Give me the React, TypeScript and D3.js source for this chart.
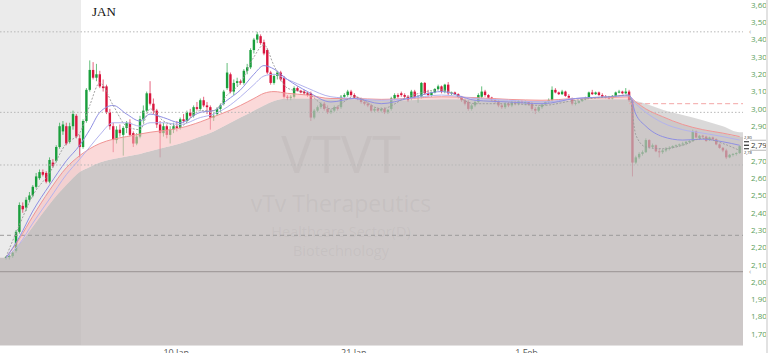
import React from "react";
import * as d3 from "d3";

// ---------- candle data ----------
const opens = [
  2.14, 2.145, 2.15, 2.18, 2.29, 2.44, 2.43, 2.475, 2.5, 2.55,
  2.6, 2.635, 2.63, 2.58, 2.69, 2.7, 2.78, 2.87, 2.9, 2.81,
  2.9, 2.96, 2.83, 2.78, 2.93, 3.11, 3.225, 3.18, 3.2, 3.13,
  3.13, 2.98, 2.9, 2.82, 2.88, 2.85, 2.89, 2.92, 2.86, 2.8,
  2.84, 2.94, 2.99, 3.09, 3.03, 2.99, 2.91, 2.86, 2.9, 2.85,
  2.88, 2.9, 2.89, 2.94, 2.93, 2.98, 2.96, 3.01, 3.0, 3.05,
  3.02, 3.01, 2.95, 2.97, 3.0, 3.03, 3.12, 3.2, 3.1, 3.15,
  3.16, 3.15, 3.22, 3.24, 3.34, 3.4, 3.42, 3.385, 3.34, 3.21,
  3.15, 3.19, 3.21, 3.18, 3.07, 3.065, 3.07, 3.12, 3.105, 3.1,
  3.09, 3.09, 2.95, 2.99, 3.01, 3.03, 3.0, 2.98, 2.99, 3.01,
  3.01, 3.07, 3.08, 3.1, 3.08, 3.065, 3.06, 3.04, 3.03, 3.02,
  2.99, 3.0, 2.99, 3.0, 2.98, 3.0, 3.06, 3.08, 3.09, 3.08,
  3.07, 3.06, 3.1, 3.065, 3.07, 3.15, 3.09, 3.08, 3.095, 3.115,
  3.13, 3.1, 3.14, 3.09, 3.095, 3.085, 3.07, 3.05, 3.04, 3.0,
  3.02, 3.04, 3.07, 3.1, 3.08, 3.065, 3.05, 3.04, 3.02, 3.01,
  3.03, 3.02, 3.04, 3.03, 3.045, 3.035, 3.04, 3.03, 3.0, 2.99,
  3.01, 3.025, 3.04, 3.05, 3.11, 3.095, 3.085, 3.1, 3.075, 3.06,
  3.03, 3.035, 3.045, 3.055, 3.065, 3.095, 3.085, 3.095, 3.08, 3.07,
  3.065, 3.06, 3.075, 3.095, 3.1, 3.09, 3.1, 3.05, 2.69, 2.72,
  2.74, 2.75, 2.82, 2.78, 2.79, 2.755, 2.75, 2.76, 2.77, 2.775,
  2.785, 2.79, 2.795, 2.8, 2.81, 2.815, 2.87, 2.83, 2.845, 2.84,
  2.82, 2.835, 2.825, 2.795, 2.775, 2.76, 2.72, 2.735, 2.74, 2.745,
];
const highs = [
  2.15, 2.16, 2.18, 2.3, 2.46, 2.46, 2.49, 2.52, 2.56, 2.63,
  2.65, 2.65, 2.64, 2.72, 2.71, 2.79, 2.92, 2.93, 2.92, 2.92,
  2.99, 2.97, 2.85, 2.94, 3.12, 3.28, 3.27, 3.26, 3.22, 3.17,
  3.14, 3.0, 2.92, 2.9, 2.91, 2.9, 2.93, 2.94, 2.87, 2.86,
  2.96, 3.02, 3.1, 3.16, 3.06, 3.0, 2.93, 2.92, 2.91, 2.9,
  2.92, 2.93, 2.95, 2.97, 2.99, 3.0, 3.02, 3.04, 3.06, 3.07,
  3.04, 3.02, 2.98, 3.01, 3.03, 3.11, 3.265, 3.21, 3.17, 3.18,
  3.17, 3.23, 3.26, 3.35, 3.41, 3.445, 3.43, 3.4, 3.35, 3.22,
  3.2, 3.22, 3.22, 3.19, 3.08, 3.08, 3.13, 3.13, 3.11, 3.11,
  3.1, 3.1, 3.0, 3.02, 3.04, 3.04, 3.02, 3.0, 3.02, 3.02,
  3.08, 3.09, 3.11, 3.11, 3.09, 3.07, 3.065, 3.05, 3.04, 3.03,
  3.01, 3.01, 3.01, 3.01, 3.0, 3.07, 3.09, 3.09, 3.1, 3.09,
  3.08, 3.11, 3.11, 3.08, 3.155, 3.155, 3.11, 3.1, 3.12, 3.14,
  3.135, 3.145, 3.155, 3.1, 3.1, 3.09, 3.075, 3.06, 3.05, 3.03,
  3.05, 3.09, 3.13, 3.11, 3.085, 3.07, 3.06, 3.05, 3.03, 3.04,
  3.04, 3.05, 3.05, 3.05, 3.05, 3.05, 3.045, 3.04, 3.01, 3.02,
  3.03, 3.045, 3.06, 3.13, 3.12, 3.1, 3.11, 3.105, 3.085, 3.065,
  3.05, 3.05, 3.06, 3.07, 3.1, 3.11, 3.1, 3.1, 3.09, 3.08,
  3.075, 3.08, 3.1, 3.11, 3.105, 3.12, 3.11, 3.06, 2.73, 2.75,
  2.76, 2.83, 2.825, 2.8, 2.795, 2.77, 2.77, 2.78, 2.785, 2.79,
  2.795, 2.8, 2.81, 2.815, 2.82, 2.88, 2.875, 2.85, 2.85, 2.845,
  2.84, 2.84, 2.83, 2.8, 2.78, 2.77, 2.74, 2.745, 2.75, 2.79,
];
const lows = [
  2.13, 2.13, 2.14, 2.17, 2.28, 2.4, 2.41, 2.46, 2.49, 2.54,
  2.59, 2.61, 2.57, 2.57, 2.66, 2.69, 2.77, 2.85, 2.79, 2.8,
  2.88, 2.83, 2.72, 2.77, 2.92, 3.1, 3.17, 3.16, 3.12, 3.1,
  2.97, 2.88, 2.75, 2.8, 2.84, 2.73, 2.86, 2.84, 2.78, 2.79,
  2.83, 2.92, 2.98, 3.02, 2.97, 2.89, 2.72, 2.84, 2.83, 2.8,
  2.86, 2.87, 2.88, 2.92, 2.92, 2.95, 2.95, 2.99, 2.99, 3.01,
  2.97, 2.88, 2.93, 2.96, 2.98, 3.02, 3.11, 3.09, 3.08, 3.13,
  3.14, 3.14, 3.2, 3.23, 3.32, 3.38, 3.37, 3.31, 3.2, 3.14,
  3.14, 3.17, 3.16, 3.06, 3.05, 3.05, 3.06, 3.1, 3.09, 3.08,
  3.07, 2.93, 2.94, 2.98, 3.0, 2.99, 2.97, 2.97, 2.98, 2.99,
  3.0, 3.06, 3.07, 3.07, 3.06, 3.05, 3.03, 3.02, 3.01, 2.98,
  2.98, 2.98, 2.98, 2.97, 2.97, 2.99, 3.05, 3.06, 3.07, 3.06,
  3.04, 3.05, 3.06, 3.035, 3.06, 3.08, 3.07, 3.07, 3.09, 3.11,
  3.09, 3.09, 3.08, 3.08, 3.08, 3.06, 3.04, 3.02, 2.99, 2.99,
  3.01, 3.03, 3.06, 3.07, 3.06, 3.04, 3.03, 3.01, 3.0, 3.0,
  3.01, 3.01, 3.02, 3.02, 3.03, 3.02, 3.02, 2.99, 2.97, 2.98,
  3.0, 3.02, 3.03, 3.04, 3.09, 3.08, 3.08, 3.07, 3.06, 3.02,
  3.02, 3.03, 3.04, 3.05, 3.06, 3.08, 3.08, 3.075, 3.065, 3.06,
  3.055, 3.055, 3.07, 3.09, 3.085, 3.085, 3.04, 2.61, 2.68, 2.71,
  2.73, 2.745, 2.77, 2.77, 2.75, 2.72, 2.74, 2.75, 2.76, 2.77,
  2.775, 2.78, 2.785, 2.79, 2.8, 2.81, 2.83, 2.82, 2.83, 2.81,
  2.815, 2.82, 2.79, 2.77, 2.75, 2.71, 2.715, 2.725, 2.73, 2.74,
];
const closes = [
  2.145, 2.15, 2.17, 2.29, 2.445, 2.42, 2.475, 2.5, 2.55, 2.61,
  2.635, 2.62, 2.58, 2.705, 2.67, 2.78, 2.9, 2.91, 2.8, 2.9,
  2.97, 2.84, 2.78, 2.93, 3.11, 3.225, 3.18, 3.2, 3.13, 3.12,
  2.98, 2.9, 2.82, 2.88, 2.86, 2.89, 2.92, 2.85, 2.8, 2.84,
  2.94, 2.99, 3.09, 3.03, 2.99, 2.91, 2.86, 2.9, 2.85, 2.88,
  2.9, 2.89, 2.94, 2.93, 2.98, 2.96, 3.01, 3.0, 3.05, 3.02,
  3.01, 2.95, 2.96, 3.0, 3.02, 3.1, 3.21, 3.1, 3.15, 3.16,
  3.15, 3.22, 3.24, 3.34, 3.4, 3.43, 3.38, 3.32, 3.21, 3.15,
  3.19, 3.21, 3.17, 3.07, 3.065, 3.07, 3.12, 3.105, 3.095, 3.09,
  3.08, 2.95, 2.99, 3.01, 3.03, 3.0, 2.98, 2.99, 3.01, 3.0,
  3.07, 3.08, 3.1, 3.08, 3.065, 3.06, 3.04, 3.03, 3.02, 2.99,
  3.0, 2.99, 3.0, 2.98, 2.995, 3.06, 3.08, 3.07, 3.08, 3.07,
  3.05, 3.1, 3.065, 3.07, 3.15, 3.09, 3.08, 3.095, 3.115, 3.13,
  3.1, 3.14, 3.09, 3.095, 3.085, 3.07, 3.05, 3.03, 3.0, 3.02,
  3.04, 3.08, 3.1, 3.08, 3.065, 3.05, 3.04, 3.02, 3.01, 3.03,
  3.02, 3.04, 3.03, 3.045, 3.035, 3.04, 3.025, 3.0, 2.99, 3.01,
  3.025, 3.04, 3.05, 3.11, 3.095, 3.085, 3.1, 3.075, 3.065, 3.03,
  3.035, 3.045, 3.055, 3.065, 3.095, 3.085, 3.095, 3.08, 3.07, 3.065,
  3.06, 3.075, 3.095, 3.1, 3.09, 3.1, 3.05, 2.69, 2.72, 2.74,
  2.75, 2.82, 2.78, 2.79, 2.755, 2.75, 2.76, 2.77, 2.775, 2.785,
  2.79, 2.795, 2.8, 2.81, 2.815, 2.87, 2.835, 2.845, 2.84, 2.815,
  2.835, 2.825, 2.795, 2.775, 2.76, 2.72, 2.735, 2.74, 2.745, 2.785,
];

// ---------- moving-average curves (at these candle indices) ----------
const maIdx = [0, 4, 8, 13, 18, 22, 25, 28, 32, 36, 40, 43, 47, 52, 58, 62, 66, 70, 74, 77, 80, 84, 90, 97, 104, 112, 120, 130, 140, 150, 160, 170, 180, 186, 188, 191, 196, 202, 208, 214, 219];
const maSlow = [2.14, 2.22, 2.32, 2.45, 2.56, 2.635, 2.665, 2.69, 2.71, 2.725, 2.74, 2.755, 2.775, 2.8, 2.84, 2.87, 2.91, 2.95, 2.99, 3.02, 3.045, 3.06, 3.06, 3.055, 3.055, 3.05, 3.05, 3.055, 3.055, 3.05, 3.045, 3.05, 3.055, 3.055, 3.045, 3.03, 2.995, 2.965, 2.935, 2.9, 2.865];
const maMid = [2.14, 2.25, 2.38, 2.53, 2.66, 2.73, 2.77, 2.8, 2.825, 2.84, 2.855, 2.865, 2.875, 2.89, 2.925, 2.955, 2.985, 3.02, 3.06, 3.09, 3.1, 3.09, 3.08, 3.06, 3.06, 3.055, 3.06, 3.07, 3.065, 3.055, 3.05, 3.06, 3.065, 3.07, 3.04, 3.0, 2.955, 2.91, 2.88, 2.86, 2.84];
const maBlueA = [2.14, 2.22, 2.34, 2.48, 2.62, 2.71, 2.78, 2.85, 2.92, 2.92, 2.9, 2.92, 2.92, 2.91, 2.95, 2.97, 3.01, 3.07, 3.14, 3.19, 3.2, 3.17, 3.12, 3.07, 3.06, 3.05, 3.06, 3.08, 3.06, 3.05, 3.04, 3.06, 3.07, 3.075, 3.03, 2.98, 2.92, 2.88, 2.86, 2.84, 2.82];
const maBlueB = [2.14, 2.26, 2.41, 2.56, 2.7, 2.79, 2.88, 2.98, 3.02, 2.97, 2.93, 2.97, 2.95, 2.92, 2.98, 2.99, 3.05, 3.11, 3.2, 3.25, 3.23, 3.17, 3.1, 3.04, 3.06, 3.03, 3.06, 3.1, 3.05, 3.04, 3.03, 3.06, 3.07, 3.08, 2.97, 2.9, 2.84, 2.82, 2.825, 2.81, 2.79];
const maFast = [2.145, 2.33, 2.5, 2.63, 2.8, 2.86, 3.02, 3.15, 3.02, 2.9, 2.88, 3.0, 2.93, 2.9, 2.99, 2.99, 3.08, 3.15, 3.3, 3.37, 3.25, 3.12, 3.09, 3.0, 3.07, 3.0, 3.07, 3.11, 3.03, 3.03, 3.02, 3.05, 3.07, 3.08, 2.85, 2.78, 2.77, 2.79, 2.83, 2.8, 2.76];

// ---------- levels, ticks, labels ----------
const dottedLevels = [3.445, 2.98, 2.676];
const dashedLevels = [2.27];
const solidLevels = [2.06];
const prevCloseLevel = 3.03;
const prevCloseFromIdx = 186;
const yTicks = [3.6, 3.5, 3.4, 3.3, 3.2, 3.1, 3.0, 2.9, 2.7, 2.6, 2.5, 2.4, 2.3, 2.2, 2.1, 2.0, 1.9, 1.8, 1.7];
const xLabels = ["10 Jan", "21 Jan", "1 Feb"];
const xLabelIdx = [47, 100, 152];
const monthLabel = "JAN";
const monthStartIdx = 22.4;
const lastPrice = 2.79;
const markerLevels = [3.445, 2.06];
const watermark = ["VTVT", "vTv Therapeutics", "Healthcare Sector(D)", "Biotechnology"];

const W = 768;
const H = 353;
const PLOT_R = 743;
const PLOT_B = 345;

type P = { x: number; v: number };

export default function App() {
  const x = d3.scaleLinear().domain([0, closes.length - 1]).range([6, 739.65]);
  const y = d3.scaleLinear().domain([1.7, 3.6]).range([334, 5]);
  const fmt = (v: number) => d3.format(".2f")(v).replace(".", ",");

  const pts = (vals: number[]): P[] => maIdx.map((i, k) => ({ x: x(i), v: vals[k] }));
  const ext = (vals: number[]): P[] => [{ x: 0, v: vals[0] }, ...pts(vals), { x: PLOT_R, v: vals[vals.length - 1] }];

  const areaUnder = d3.area<P>().x((d) => d.x).y0(PLOT_B).y1((d) => y(d.v)).curve(d3.curveMonotoneX);
  const areaAbove = d3.area<P>().x((d) => d.x).y0(0).y1((d) => y(d.v)).curve(d3.curveMonotoneX);
  const line = d3.line<P>().x((d) => d.x).y((d) => y(d.v)).curve(d3.curveMonotoneX);

  const slowE = ext(maSlow);
  const midE = ext(maMid);

  const bodyW = 2.4;
  const up = "#1a9f3c";
  const down = "#d9163f";
  const shadeX = x(monthStartIdx);

  return (
    <svg width={W} height={H} style={{ position: "absolute", left: 0, top: 0, display: "block" }}>
      <defs>
        <clipPath id="underMid"><path d={areaUnder(midE) || ""} /></clipPath>
        <clipPath id="aboveSlow"><path d={areaAbove(slowE) || ""} /></clipPath>
        <clipPath id="aboveMid"><path d={areaAbove(midE) || ""} /></clipPath>
        <clipPath id="plot"><rect x={0} y={0} width={PLOT_R} height={PLOT_B} /></clipPath>
      </defs>
      <rect x={0} y={0} width={W} height={H} fill="#ffffff" />
      <rect x={0} y={0} width={shadeX} height={PLOT_B} fill="#ebebeb" />

      <g clipPath="url(#plot)">
        {/* candles */}
        {closes.map((c, i) => {
          const o = opens[i];
          const col = c >= o ? up : down;
          const top = y(Math.max(o, c));
          const h = Math.max(1, Math.abs(y(o) - y(c)));
          return (
            <g key={i}>
              <line x1={x(i)} x2={x(i)} y1={y(highs[i])} y2={y(lows[i])} stroke={col} strokeWidth={0.9} strokeOpacity={0.75} />
              <rect x={x(i) - bodyW / 2} y={top} width={bodyW} height={h} fill={col} />
            </g>
          );
        })}

        {/* filled bands */}
        <path d={areaUnder(slowE) || ""} clipPath="url(#underMid)" fill="rgb(188,182,182)" fillOpacity={0.75} />
        <path d={areaUnder(midE) || ""} clipPath="url(#aboveSlow)" fill="rgb(247,186,186)" fillOpacity={0.55} />
        <path d={areaUnder(slowE) || ""} clipPath="url(#aboveMid)" fill="rgb(188,186,186)" fillOpacity={0.55} />

        {/* watermark */}
        <g fill="rgb(140,128,128)" fillOpacity={0.1} textAnchor="middle" fontFamily="'Open Sans', sans-serif">
          <text x={341} y={173} fontSize={52}>{watermark[0]}</text>
          <text x={341} y={212} fontSize={23}>{watermark[1]}</text>
          <text x={341} y={237} fontSize={14.5}>{watermark[2]}</text>
          <text x={341} y={256} fontSize={14.5}>{watermark[3]}</text>
        </g>

        {/* horizontal levels */}
        {dottedLevels.map((v, k) => (
          <line key={"d" + k} x1={0} x2={PLOT_R} y1={y(v)} y2={y(v)} stroke="#b8b8b8" strokeWidth={1} strokeDasharray="1.5,2" />
        ))}
        {dashedLevels.map((v, k) => (
          <line key={"s" + k} x1={0} x2={PLOT_R} y1={y(v)} y2={y(v)} stroke="#9c9a9a" strokeWidth={1} strokeDasharray="4,3" />
        ))}
        {solidLevels.map((v, k) => (
          <line key={"l" + k} x1={0} x2={PLOT_R} y1={y(v)} y2={y(v)} stroke="#a39d9d" strokeWidth={1.2} />
        ))}
        <line x1={x(prevCloseFromIdx)} x2={PLOT_R} y1={y(prevCloseLevel)} y2={y(prevCloseLevel)} stroke="#f3a6a6" strokeWidth={1} strokeDasharray="5,3" />

        {/* moving averages */}
        <path d={line(pts(maMid)) || ""} fill="none" stroke="#f09494" strokeWidth={1} />
        <path d={line(pts(maBlueA)) || ""} fill="none" stroke="#b3b3ee" strokeWidth={1} />
        <path d={line(pts(maBlueB)) || ""} fill="none" stroke="#8f8fe3" strokeWidth={1} />
        <path d={line(pts(maFast)) || ""} fill="none" stroke="#9a9a9a" strokeWidth={0.9} strokeDasharray="2,1.5" />
      </g>

      <line x1={0} x2={PLOT_R} y1={PLOT_B + 0.5} y2={PLOT_B + 0.5} stroke="#e4e2e2" strokeWidth={1} />

      {/* month label */}
      <text x={shadeX + 11} y={16} fontSize={13} fontFamily="'Liberation Serif', 'Times New Roman', serif" fill="#111">{monthLabel}</text>

      {/* right price axis */}
      <g fontFamily="'Open Sans', sans-serif" fontSize={8} fill="#5a9e5a">
        {yTicks.map((v) => (
          <text key={v} x={751} y={y(v)} dy="0.35em">{fmt(v)}</text>
        ))}
      </g>
      {markerLevels.map((v, k) => (
        <text key={"m" + k} x={749} y={y(v) + 2} fontSize={7} fill="#999" fontFamily="'Open Sans', sans-serif">‹</text>
      ))}

      {/* last price marker */}
      <g>
        <line x1={744} x2={749} y1={y(lastPrice) - 3.5} y2={y(lastPrice) - 3.5} stroke="#222" strokeWidth={1} />
        <line x1={744} x2={749} y1={y(lastPrice)} y2={y(lastPrice)} stroke="#222" strokeWidth={1.2} />
        <line x1={744} x2={749} y1={y(lastPrice) + 3.5} y2={y(lastPrice) + 3.5} stroke="#222" strokeWidth={1} />
        <text x={744} y={y(lastPrice) - 6} fontSize={4} fill="#333" fontFamily="'Open Sans', sans-serif">{fmt(lastPrice + 0.01)}</text>
        <text x={744} y={y(lastPrice) + 9} fontSize={4} fill="#333" fontFamily="'Open Sans', sans-serif">{fmt(lastPrice - 0.01)}</text>
        <line x1={750} x2={766} y1={y(lastPrice) - 5} y2={y(lastPrice) - 5} stroke="#888" strokeWidth={0.6} />
        <line x1={750} x2={766} y1={y(lastPrice) + 5} y2={y(lastPrice) + 5} stroke="#888" strokeWidth={0.6} />
        <text x={751} y={y(lastPrice)} dy="0.35em" fontSize={8} fill="#333" fontFamily="'Open Sans', sans-serif">{fmt(lastPrice)}</text>
      </g>

      {/* right edge strip */}
      <rect x={766} y={0} width={2} height={H} fill="#e2e2e2" />

      {/* bottom time labels (cut by the frame, as in the reference) */}
      <g fontFamily="'Open Sans', sans-serif" fontSize={9} fill="#555">
        {xLabels.map((t, k) => (
          <text key={t} x={x(xLabelIdx[k])} y={356}>{t}</text>
        ))}
      </g>
    </svg>
  );
}
